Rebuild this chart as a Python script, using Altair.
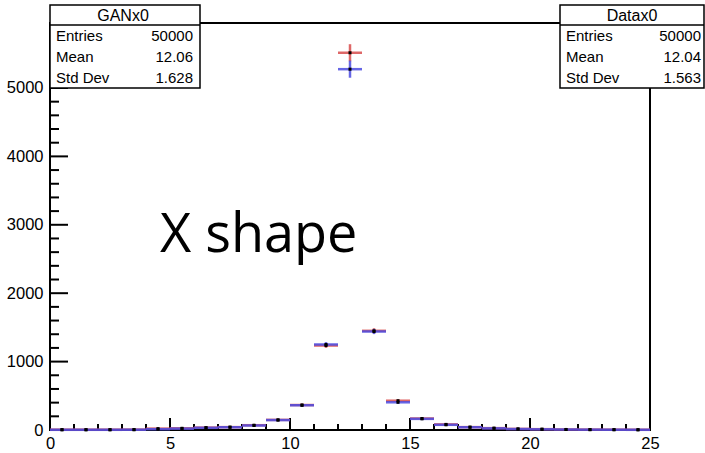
import altair as alt
import pandas as pd

# ---------------- data ----------------
bin_lo = [0, 1, 2, 3, 4, 5, 6, 7, 8, 9, 10, 11, 12, 13, 14, 15, 16, 17, 18, 19, 20, 21, 22, 23, 24]
bin_hi = [1, 2, 3, 4, 5, 6, 7, 8, 9, 10, 11, 12, 13, 14, 15, 16, 17, 18, 19, 20, 21, 22, 23, 24, 25]
bin_mid = [0.5, 1.5, 2.5, 3.5, 4.5, 5.5, 6.5, 7.5, 8.5, 9.5, 10.5, 11.5, 12.5, 13.5, 14.5,
           15.5, 16.5, 17.5, 18.5, 19.5, 20.5, 21.5, 22.5, 23.5, 24.5]

gan_counts = [5, 5, 5, 6, 20, 25, 35, 42, 70, 148, 365, 1235, 5515, 1450, 428,
              168, 82, 42, 27, 16, 12, 8, 6, 5, 4]
gan_errors = [2, 2, 2, 2, 4, 5, 6, 6, 8, 12, 19, 35, 125, 38, 21,
              13, 9, 6, 5, 4, 3, 3, 2, 2, 2]
data_counts = [3, 3, 3, 4, 12, 20, 32, 40, 66, 145, 362, 1250, 5275, 1440, 405,
               163, 76, 40, 24, 14, 10, 7, 5, 4, 3]
data_errors = [2, 2, 2, 2, 3, 4, 6, 6, 8, 12, 19, 35, 125, 38, 20,
               13, 9, 6, 5, 4, 3, 3, 2, 2, 2]

x_major = [0, 5, 10, 15, 20, 25]
x_minor = [1, 2, 3, 4, 6, 7, 8, 9, 11, 12, 13, 14, 16, 17, 18, 19, 21, 22, 23, 24]
y_major = [0, 1000, 2000, 3000, 4000, 5000]
y_minor = [200, 400, 600, 800, 1200, 1400, 1600, 1800, 2200, 2400, 2600, 2800,
           3200, 3400, 3600, 3800, 4200, 4400, 4600, 4800, 5200, 5400, 5600, 5800]

stat_labels = ["Entries", "Mean", "Std Dev"]
gan_title = "GANx0"
gan_stats = ["50000", "12.06", "1.628"]
data_title = "Datax0"
data_stats = ["50000", "12.04", "1.563"]
big_label = "X shape"

# ---------------- layout ----------------
W, H = 600, 407
FONT = "Liberation Sans"
xs = alt.Scale(domain=[0, 25], nice=False, zero=False)
ys = alt.Scale(domain=[0, 5950], nice=False, zero=False)
one = pd.DataFrame({"a": [0]})


def series_df(counts, errors):
    return pd.DataFrame({
        "lo": bin_lo, "hi": bin_hi, "mid": bin_mid,
        "val": counts,
        "elo": [c - e for c, e in zip(counts, errors)],
        "ehi": [c + e for c, e in zip(counts, errors)],
    })


gan_df = series_df(gan_counts, gan_errors)
dat_df = series_df(data_counts, data_errors)

x_axis = alt.Axis(values=x_major, tickSize=0, domain=False, grid=False, title=None,
                  labelFont=FONT, labelFontSize=16.5, labelColor="black", labelPadding=5,
                  labelFlush=False, labelOverlap=False, format="d")
y_axis = alt.Axis(values=y_major, tickSize=0, domain=False, grid=False, title=None,
                  labelFont=FONT, labelFontSize=16.5, labelColor="black", labelPadding=7,
                  labelOverlap=False, format="d")


def X(field):
    return alt.X(field, scale=xs, axis=x_axis)


def Y(field):
    return alt.Y(field, scale=ys, axis=y_axis)


layers = []

# ticks (inward)
TW = 2
layers.append(alt.Chart(pd.DataFrame({"v": x_minor})).mark_rule(color="black", strokeWidth=TW).encode(
    x=X("v:Q"), y=alt.value(H), y2=alt.value(H - 6)))
layers.append(alt.Chart(pd.DataFrame({"v": x_major})).mark_rule(color="black", strokeWidth=TW).encode(
    x=X("v:Q"), y=alt.value(H), y2=alt.value(H - 12)))
layers.append(alt.Chart(pd.DataFrame({"v": y_minor})).mark_rule(color="black", strokeWidth=TW).encode(
    y=Y("v:Q"), x=alt.value(0), x2=alt.value(9)))
layers.append(alt.Chart(pd.DataFrame({"v": y_major})).mark_rule(color="black", strokeWidth=TW).encode(
    y=Y("v:Q"), x=alt.value(0), x2=alt.value(18)))

# histograms
for df, col in [(gan_df, "#d84c4c"), (dat_df, "#4b4be0")]:
    layers.append(alt.Chart(df).mark_rule(color=col, strokeWidth=2.5, opacity=0.85).encode(
        x=X("lo:Q"), x2="hi:Q", y=Y("val:Q")))
    layers.append(alt.Chart(df).mark_rule(color=col, strokeWidth=2.5, opacity=0.85).encode(
        x=X("mid:Q"), y=Y("elo:Q"), y2="ehi:Q"))
for df in [gan_df, dat_df]:
    layers.append(alt.Chart(df).mark_square(color="black", size=9, opacity=1).encode(
        x=X("mid:Q"), y=Y("val:Q")))

# big label
layers.append(alt.Chart(one).mark_text(text=big_label, font="Open Sans", fontSize=54,
                                       align="left", baseline="alphabetic", color="black").encode(
    x=alt.value(110), y=alt.value(229)))


def stat_box(x0, x1, title, values, title_x, label_x, value_x):
    out = []
    out.append(alt.Chart(one).mark_rect(fill="white", stroke="black", strokeWidth=1.5).encode(
        x=alt.value(x0), x2=alt.value(x1), y=alt.value(-18), y2=alt.value(65)))
    out.append(alt.Chart(one).mark_rule(color="black", strokeWidth=1.5).encode(
        x=alt.value(x0), x2=alt.value(x1), y=alt.value(2)))
    out.append(alt.Chart(one).mark_text(text=title, font=FONT, fontSize=16, align="center",
                                        baseline="middle", color="black").encode(
        x=alt.value(title_x), y=alt.value(-7.5)))
    rows_y = [12.5, 33.5, 54.5]
    for lab, val, yy in zip(stat_labels, values, rows_y):
        out.append(alt.Chart(one).mark_text(text=lab, font=FONT, fontSize=15, align="left",
                                            baseline="middle", color="black").encode(
            x=alt.value(label_x), y=alt.value(yy)))
        out.append(alt.Chart(one).mark_text(text=val, font=FONT, fontSize=15, align="right",
                                            baseline="middle", color="black").encode(
            x=alt.value(value_x), y=alt.value(yy)))
    return out


layers += stat_box(0, 150, gan_title, gan_stats, 73, 6, 143)
layers += stat_box(510, 654, data_title, data_stats, 582, 516, 651)

chart = alt.layer(*layers).properties(
    width=W, height=H, autosize="none",
    padding={"left": 50, "top": 23, "right": 55, "bottom": 23},
    background="white",
).configure_view(stroke="black", strokeWidth=2)

chart.save("out.html", embed_options={"renderer": "svg", "actions": False})
